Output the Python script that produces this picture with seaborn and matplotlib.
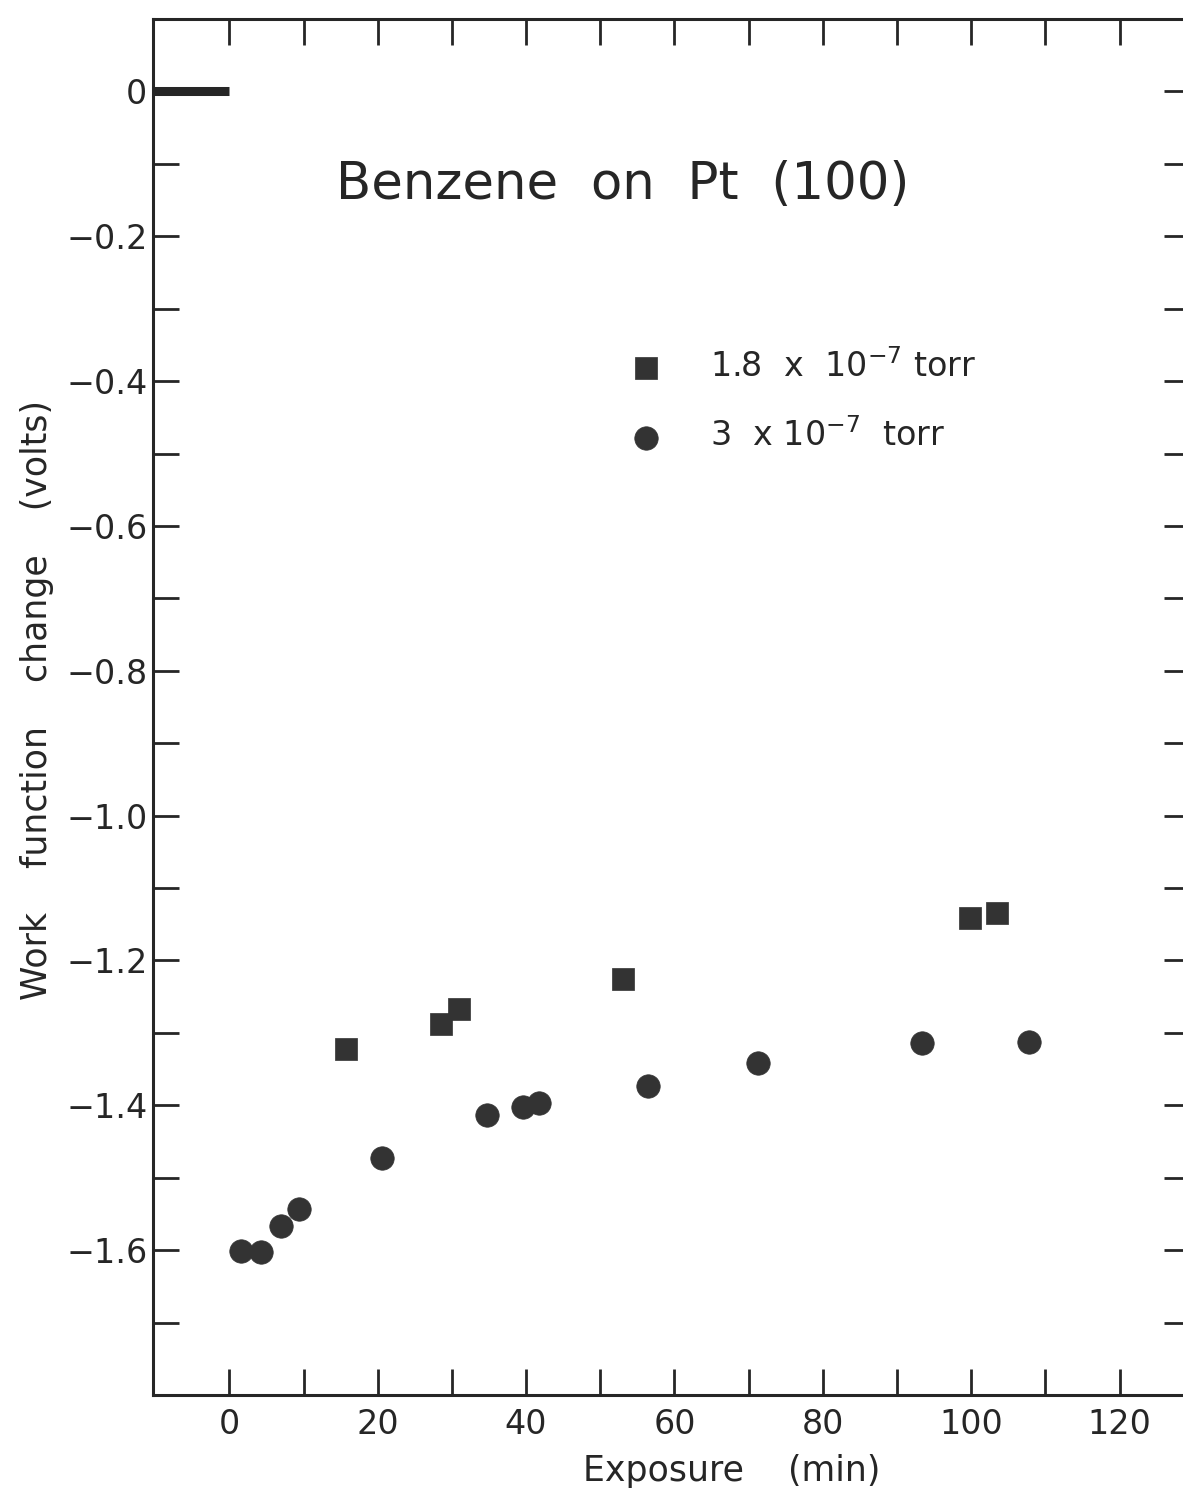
import matplotlib
matplotlib.use("Agg")
import matplotlib.pyplot as plt
import seaborn as sns

# 1.8 x 10^-7 torr (squares)
sq_exposure = [15.7, 28.5, 30.9, 53.0, 99.8, 103.5]
sq_dphi = [-1.322, -1.288, -1.267, -1.225, -1.142, -1.135]

# 3 x 10^-7 torr (circles)
ci_exposure = [1.5, 4.2, 7.0, 9.4, 20.6, 34.7, 39.6, 41.7, 56.4, 71.3, 93.4, 107.8]
ci_dphi = [-1.601, -1.602, -1.566, -1.543, -1.473, -1.414, -1.402, -1.397,
           -1.373, -1.341, -1.314, -1.312]

# clean surface, before exposure
clean_exposure = [-10.3, 0]
clean_dphi = [0, 0]

x_ticks = list(range(0, 130, 10))
x_labels = ["0", "", "20", "", "40", "", "60", "", "80", "", "100", "", "120"]
y_ticks = [0, -0.1, -0.2, -0.3, -0.4, -0.5, -0.6, -0.7, -0.8, -0.9,
           -1.0, -1.1, -1.2, -1.3, -1.4, -1.5, -1.6, -1.7]
y_labels = ["0", "", "−0.2", "", "−0.4", "", "−0.6", "", "−0.8", "",
            "−1.0", "", "−1.2", "", "−1.4", "", "−1.6", ""]

INK = "#262626"
MARK = "#333333"

sns.set_style("ticks")
plt.rcParams["font.family"] = ["DejaVu Sans"]
plt.rcParams["mathtext.fontset"] = "dejavusans"

fig = plt.figure(figsize=(11.83, 14.96), dpi=100)
ax = fig.add_axes([153 / 1183, 101 / 1496, 1037 / 1183, 1376 / 1496])

ax.plot(clean_exposure, clean_dphi, color=INK, lw=6.5, solid_capstyle="butt", zorder=3)

sns.scatterplot(x=sq_exposure, y=sq_dphi, marker="s", s=260, color=MARK,
                edgecolor=MARK, linewidth=0.5, ax=ax, zorder=4,
                label=r"1.8  x  10$^{-7}$ torr")
sns.scatterplot(x=ci_exposure, y=ci_dphi, marker="o", s=285, color=MARK,
                edgecolor=MARK, linewidth=0.5, ax=ax, zorder=4,
                label=r"3  x 10$^{-7}$  torr")

ax.set_xlim(-10.3, 129.5)
ax.set_ylim(-1.8, 0.1)

ax.set_xticks(x_ticks)
ax.set_xticklabels(x_labels)
ax.set_yticks(y_ticks)
ax.set_yticklabels(y_labels)

ax.tick_params(axis="both", which="major", direction="in", length=19, width=2,
               color=INK, labelcolor=INK, labelsize=24, top=True, right=True)
ax.tick_params(axis="y", pad=4)
ax.tick_params(axis="x", pad=9)
for side in ["left", "right", "top", "bottom"]:
    ax.spines[side].set_linewidth(2.2)
    ax.spines[side].set_color(INK)

ax.text(53, -0.129, "Benzene  on  Pt  (100)", ha="center", va="center",
        fontsize=37, color=INK)

ax.set_xlabel("Exposure    (min)", fontsize=25, color=INK)
ax.xaxis.set_label_coords(0.558, -0.043)
ax.set_ylabel("Work    function    change    (volts)", fontsize=25, color=INK)
ax.yaxis.set_label_coords(-0.095, 0.505)

leg = ax.legend(loc="upper left", bbox_to_anchor=(0.437, 0.770), frameon=False,
                fontsize=24, labelspacing=1.05, handlelength=1.6,
                handletextpad=1.1, borderaxespad=0, labelcolor=INK)

fig.savefig("out.png", dpi=100)
